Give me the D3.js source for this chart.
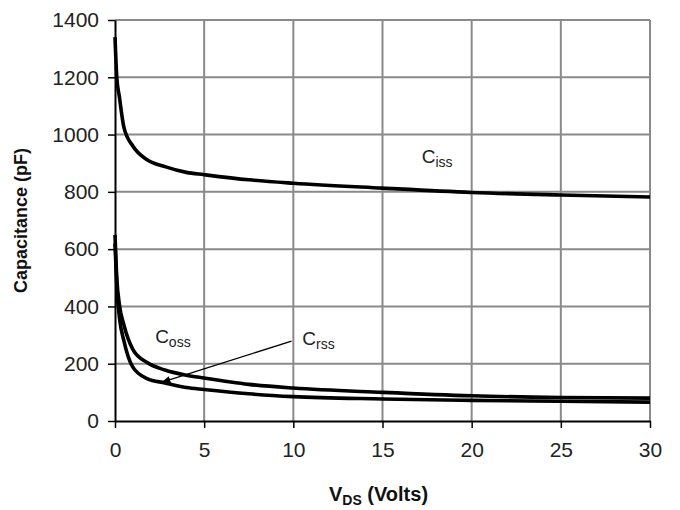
<!DOCTYPE html>
<html>
<head>
<meta charset="utf-8">
<script src="https://cdn.jsdelivr.net/npm/d3@7"></script>
<style>
  body { margin: 0; background: #fff; }
  text { font-family: "Liberation Sans", Arial, sans-serif; }
</style>
</head>
<body>
<div id="chart"></div>
<script>
// values
const vds  = [0, 0.1, 0.25, 0.5, 1, 1.8, 2.8, 4, 5, 7.5, 10, 15, 20, 25, 30];
const ciss = [1340, 1200, 1130, 1025, 960, 912, 888, 868, 860, 842, 830, 813, 798, 789, 782];
const coss = [650, 500, 405, 335, 250, 204, 178, 160, 150, 128, 115, 100, 88, 82, 80];
const crss = [620, 470, 360, 280, 188, 148, 133, 117, 110, 95, 85, 77, 72, 69, 66];

const xTicks = [0, 5, 10, 15, 20, 25, 30];
const yTicks = [0, 200, 400, 600, 800, 1000, 1200, 1400];

// curve labels: [main, subscript, x (V), y (pF)]
const labels = [
  ["C", "iss", 17.2, 900],
  ["C", "oss", 2.25, 272],
  ["C", "rss", 10.5, 265]
];
// leader arrow for Crss: from, to (V, pF)
const arrowFrom = [9.9, 279];
const arrowTo = [2.65, 136];

let margin = {top: 20, right: 30, bottom: 89, left: 115};
let width = 680 - margin.left - margin.right;
let height = 510 - margin.top - margin.bottom;

let svg = d3.select("#chart").append("svg")
    .attr("width", 680)
    .attr("height", 510)
    .append("g")
    .attr("transform", `translate(${margin.left}, ${margin.top})`);

let x = d3.scaleLinear().domain([0, 30]).range([0, width]);
let y = d3.scaleLinear().domain([0, 1400]).range([height, 0]);

// gridlines
svg.append("g")
    .attr("stroke", "#8a8a8a")
    .attr("stroke-width", 2)
    .selectAll("line.v")
    .data(xTicks.slice(1))
    .join("line")
    .attr("x1", d => x(d)).attr("x2", d => x(d))
    .attr("y1", 0).attr("y2", height);

svg.append("g")
    .attr("stroke", "#8a8a8a")
    .attr("stroke-width", 2)
    .selectAll("line.h")
    .data(yTicks.slice(1))
    .join("line")
    .attr("x1", 0).attr("x2", width)
    .attr("y1", d => y(d)).attr("y2", d => y(d));

// axes
let xAxis = svg.append("g")
    .attr("transform", `translate(0, ${height})`)
    .call(d3.axisBottom(x).tickValues(xTicks).tickFormat(d3.format("d"))
        .tickSize(7).tickSizeOuter(0).tickPadding(10));
let yAxis = svg.append("g")
    .call(d3.axisLeft(y).tickValues(yTicks).tickFormat(d3.format("d"))
        .tickSize(7).tickSizeOuter(0).tickPadding(9));

[xAxis, yAxis].forEach(a => {
    a.select(".domain").attr("stroke", "#000").attr("stroke-width", 2);
    a.selectAll(".tick line").attr("stroke", "#000").attr("stroke-width", 1.5);
    a.selectAll(".tick text")
        .attr("font-size", 21)
        .attr("font-family", "Liberation Sans, Arial, sans-serif")
        .attr("fill", "#222");
});
xAxis.selectAll(".tick text").attr("dy", "0.9em");

// curves
let line = d3.line()
    .x((d, i) => x(vds[i]))
    .y(d => y(d))
    .curve(d3.curveMonotoneX);

svg.append("g")
    .attr("fill", "none")
    .attr("stroke", "#000")
    .attr("stroke-width", 3.6)
    .attr("stroke-linejoin", "round")
    .selectAll("path")
    .data([ciss, coss, crss])
    .join("path")
    .attr("d", d => line(d));

// leader arrow
svg.append("defs").append("marker")
    .attr("id", "arr")
    .attr("viewBox", "0 0 10 10")
    .attr("refX", 9).attr("refY", 5)
    .attr("markerWidth", 9).attr("markerHeight", 9)
    .attr("markerUnits", "userSpaceOnUse")
    .attr("orient", "auto")
    .append("path")
    .attr("d", "M0,1 L10,5 L0,9 Z")
    .attr("fill", "#000");

svg.append("line")
    .attr("x1", x(arrowFrom[0])).attr("y1", y(arrowFrom[1]))
    .attr("x2", x(arrowTo[0])).attr("y2", y(arrowTo[1]))
    .attr("stroke", "#000")
    .attr("stroke-width", 1.3)
    .attr("marker-end", "url(#arr)");

// curve labels
let lab = svg.append("g")
    .selectAll("text")
    .data(labels)
    .join("text")
    .attr("x", d => x(d[2]))
    .attr("y", d => y(d[3]))
    .attr("font-size", 19)
    .attr("fill", "#222");
lab.append("tspan").text(d => d[0]);
lab.append("tspan").attr("font-size", 14).attr("dy", 4).text(d => d[1]);

// axis titles
let xt = svg.append("text")
    .attr("x", width / 2 - 4)
    .attr("y", height + 80)
    .attr("text-anchor", "middle")
    .attr("font-size", 20)
    .attr("font-weight", "bold")
    .attr("fill", "#111");
xt.append("tspan").text("V");
xt.append("tspan").attr("font-size", 14).attr("dy", 4).text("DS");
xt.append("tspan").attr("dy", -4).text(" (Volts)");

svg.append("text")
    .attr("transform", `translate(${-88}, ${height / 2}) rotate(-90)`)
    .attr("text-anchor", "middle")
    .attr("font-size", 18)
    .attr("font-weight", "bold")
    .attr("fill", "#111")
    .text("Capacitance (pF)");
</script>
</body>
</html>
